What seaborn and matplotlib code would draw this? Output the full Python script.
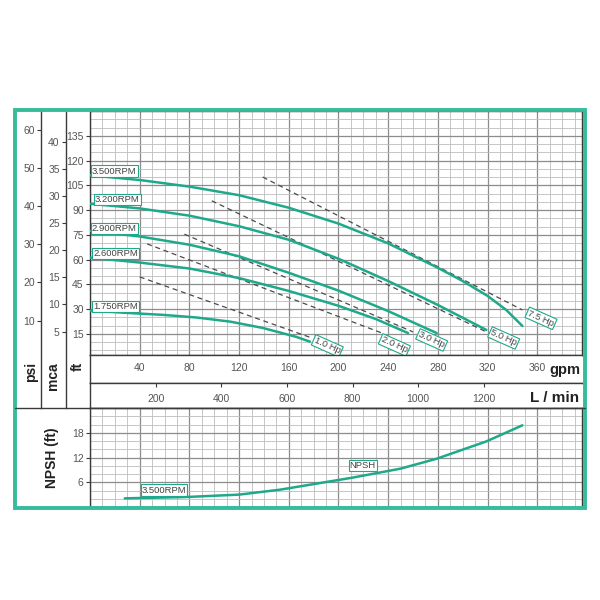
import numpy as np
import pandas as pd
import seaborn as sns
import matplotlib.pyplot as plt
from matplotlib.patches import Rectangle
from matplotlib.lines import Line2D
from matplotlib.ticker import MultipleLocator

# pump curves: flow in gpm, head in ft
rpm_names = ['3.500RPM', '3.200RPM', '2.900RPM', '2.600RPM', '1.750RPM']
flow_3500 = [0, 40, 80, 120, 160, 200, 240, 280, 300, 320, 335, 348]
head_3500 = [111, 108.2, 104.2, 99, 91.4, 81.8, 69.8, 55, 47, 38, 29.5, 19.8]
flow_3200 = [0, 40, 80, 120, 160, 200, 240, 280, 319]
head_3200 = [93.8, 91, 86.6, 80.2, 72, 60.5, 47, 32.5, 17.4]
flow_2900 = [0, 40, 80, 120, 160, 200, 240, 279]
head_2900 = [77.4, 74, 69, 62, 52, 41.2, 28.8, 15.5]
flow_2600 = [0, 40, 80, 120, 160, 200, 230, 256]
head_2600 = [61.2, 58.2, 54.6, 48.8, 41, 32, 24, 15.5]
flow_1750 = [0, 32, 59, 86, 113, 139, 166, 177]
head_1750 = [29.1, 27.6, 26.5, 24.9, 22.4, 18.6, 13.2, 10.3]
rpm_label_x = [1.5, 4, 1.5, 2.5, 2.5]
rpm_label_y = [113.6, 96.5, 79, 63.8, 31.6]

# motor power lines
hp_names = ['7.5 Hp', '5.0 Hp', '3.0 Hp', '2.0 Hp', '1.0 Hp']
hp_flow = [[139, 348], [98, 319], [76, 260], [46, 235], [40, 179]]
hp_head = [[110, 29.5], [95.6, 16.2], [75.4, 16.2], [69.5, 15.5], [49.5, 12.4]]
hp_label_x = [363, 333, 275, 245, 191]
hp_label_y = [24.4, 12.5, 11.3, 8.3, 7.7]

# NPSH at 3500 rpm
npsh_flow = [28, 76, 120, 153, 211, 250, 279, 319, 348]
npsh_ft = [2.1, 2.4, 3.0, 4.2, 7.1, 9.3, 11.7, 15.9, 19.8]

gpm_ticks = [40, 80, 120, 160, 200, 240, 280, 320, 360]
lmin_ticks = [200, 400, 600, 800, 1000, 1200]
ft_ticks = [15, 30, 45, 60, 75, 90, 105, 120, 135]
mca_ticks = [5, 10, 15, 20, 25, 30, 35, 40]
psi_ticks = [10, 20, 30, 40, 50, 60]
npsh_ticks = [6, 12, 18]

TEAL = '#1ea98b'
BORDER = '#35bc9c'
LINE = '#3a3a3a'
TXT = '#555555'

sns.set_style('white')
plt.rcParams['font.family'] = ['Liberation Sans', 'DejaVu Sans']

fig = plt.figure(figsize=(6, 6), dpi=100)


def box(x0, y0, x1, y1):
    # pixel box -> figure fraction rect
    return [x0 / 600, 1 - y1 / 600, (x1 - x0) / 600, (y1 - y0) / 600]


X_MAX = 396
FT_LO, FT_HI = 2.2, 150
px_per_ft = (355 - 111) / (FT_HI - FT_LO)
col_lo = FT_HI - (408 - 111) / px_per_ft

# main head chart
ax = fig.add_axes(box(90, 111, 582, 355))
ax.set_xlim(0, X_MAX)
ax.set_ylim(FT_LO, FT_HI)
ax.xaxis.set_major_locator(MultipleLocator(40))
ax.xaxis.set_minor_locator(MultipleLocator(10))
ax.set_yticks(ft_ticks)
ax.yaxis.set_minor_locator(MultipleLocator(5))
ax.grid(which='major', color='#8c8c8c', lw=0.9)
ax.grid(which='minor', color='#bdbdbd', lw=0.6)
ax.set_axisbelow(True)
ax.tick_params(axis='x', which='both', bottom=False, labelbottom=False)
ax.tick_params(axis='y', which='major', left=True, length=3, width=0.8,
               color=LINE, labelsize=7.5, labelcolor=TXT, pad=1.5)
ax.tick_params(axis='y', which='minor', left=False)
for s in ax.spines.values():
    s.set_color(LINE)
    s.set_linewidth(1)

curves = [(flow_3500, head_3500), (flow_3200, head_3200), (flow_2900, head_2900),
          (flow_2600, head_2600), (flow_1750, head_1750)]
for (fl, hd), name, lx, ly in zip(curves, rpm_names, rpm_label_x, rpm_label_y):
    sns.lineplot(x=fl, y=hd, ax=ax, color=TEAL, lw=1.8, zorder=3)
    ax.text(lx, ly, name, fontsize=6.8, color='#444444', ha='left', va='center', zorder=5,
            bbox=dict(boxstyle='square,pad=0.12', fc='white', ec=TEAL, lw=0.8))

for fl, hd, name, lx, ly in zip(hp_flow, hp_head, hp_names, hp_label_x, hp_label_y):
    sns.lineplot(x=fl, y=hd, ax=ax, color='#4a4a4a', lw=0.9, dashes=False,
                 linestyle=(0, (4, 3)), zorder=2)
    ax.text(lx, ly, name, fontsize=6.8, color='#444444', ha='center', va='center',
            rotation=-24, zorder=5, rotation_mode='anchor',
            bbox=dict(boxstyle='square,pad=0.12', fc='white', ec=TEAL, lw=0.8))

# left scale columns (each axis carries the scale of the column to its left)
col_psi = fig.add_axes(box(15, 111, 41, 408))
col_mca = fig.add_axes(box(41, 111, 66, 408))
col_ft = fig.add_axes(box(66, 111, 90, 408))
for c in (col_psi, col_mca, col_ft):
    c.set_xticks([])
    c.set_xlim(0, 1)
    for s in c.spines.values():
        s.set_visible(False)
    c.patch.set_alpha(0)
for c in (col_mca, col_ft):
    c.spines['left'].set_visible(True)
    c.spines['left'].set_color(LINE)
    c.spines['left'].set_linewidth(1)
    c.tick_params(axis='y', left=True, length=3, width=0.8, color=LINE,
                  labelsize=7.5, labelcolor=TXT, pad=1.5)
col_psi.set_yticks([])
col_mca.set_ylim(col_lo / 2.307, FT_HI / 2.307)
col_mca.set_yticks(psi_ticks)
col_ft.set_ylim(col_lo / 3.281, FT_HI / 3.281)
col_ft.set_yticks(mca_ticks)

for xpx, unit in [(31, 'psi'), (53, 'mca'), (78, 'ft')]:
    fig.text(xpx / 600, 1 - 362 / 600, unit, rotation=90, ha='center', va='top',
             fontsize=10, fontweight='bold', color='#222222')

# flow scale band
band_gpm = fig.add_axes(box(90, 355, 582, 383))
band_gpm.set_xlim(0, X_MAX)
band_gpm.set_ylim(0, 1)
band_gpm.set_xticks([])
band_gpm.set_yticks([])
for g in gpm_ticks:
    band_gpm.text(g, 0.55, str(g), ha='center', va='center', fontsize=7.5, color=TXT)
band_gpm.text((549 - 90) / 492, 0.45, 'gpm', transform=band_gpm.transAxes, ha='left',
              va='center', fontsize=10.5, fontweight='bold', color='#222222')

band_l = fig.add_axes(box(90, 383, 582, 408))
band_l.set_xlim(0, X_MAX * 3.785)
band_l.set_ylim(0, 1)
band_l.set_yticks([])
band_l.set_xticks(lmin_ticks)
band_l.xaxis.set_ticks_position('top')
band_l.tick_params(axis='x', direction='in', length=3, width=0.8, color=LINE,
                   labeltop=False, labelbottom=False)
for v in lmin_ticks:
    band_l.text(v, 0.38, str(v), ha='center', va='center', fontsize=7.5, color=TXT)
band_l.text(0.995, 0.42, 'L / min', transform=band_l.transAxes, ha='right', va='center',
            fontsize=11, fontweight='bold', color='#222222')
for b in (band_gpm, band_l):
    for s in b.spines.values():
        s.set_color(LINE)
        s.set_linewidth(1)
    b.spines['right'].set_visible(False)

# NPSH chart
axn = fig.add_axes(box(90, 408, 582, 507))
axn.set_xlim(0, X_MAX)
axn.set_ylim(0, 24)
axn.xaxis.set_major_locator(MultipleLocator(40))
axn.xaxis.set_minor_locator(MultipleLocator(10))
axn.set_yticks(npsh_ticks)
axn.yaxis.set_minor_locator(MultipleLocator(2))
axn.grid(which='major', color='#8c8c8c', lw=0.9)
axn.grid(which='minor', color='#bdbdbd', lw=0.6)
axn.set_axisbelow(True)
axn.tick_params(axis='x', which='both', bottom=False, labelbottom=False)
axn.tick_params(axis='y', which='major', left=True, length=3, width=0.8, color=LINE,
                labelsize=7.5, labelcolor=TXT, pad=1.5)
axn.tick_params(axis='y', which='minor', left=False)
for s in axn.spines.values():
    s.set_color(LINE)
    s.set_linewidth(1)
sns.lineplot(x=npsh_flow, y=npsh_ft, ax=axn, color=TEAL, lw=1.8, zorder=3)
axn.text(59.6, 4.1, '3.500RPM', fontsize=6.8, color='#444444', ha='center', va='center',
         zorder=5, bbox=dict(boxstyle='square,pad=0.12', fc='white', ec=TEAL, lw=0.8))
axn.text(219.5, 10, 'NPSH', fontsize=6.8, color='#444444', ha='center', va='center',
         zorder=5, bbox=dict(boxstyle='square,pad=0.12', fc='white', ec=TEAL, lw=0.8))
fig.text(52 / 600, 1 - 458 / 600, 'NPSH (ft)', rotation=90, ha='center', va='center',
         fontsize=10, fontweight='bold', color='#222222')

# separator across full width and outer frame
fig.add_artist(Line2D([15 / 600, 585 / 600], [1 - 408 / 600] * 2, color=LINE, lw=1))
fig.add_artist(Rectangle((15 / 600, 1 - 508 / 600), 570 / 600, 398 / 600, fill=False,
                         ec=BORDER, lw=2.8, transform=fig.transFigure))

fig.savefig('out.png', dpi=100, facecolor='white')
